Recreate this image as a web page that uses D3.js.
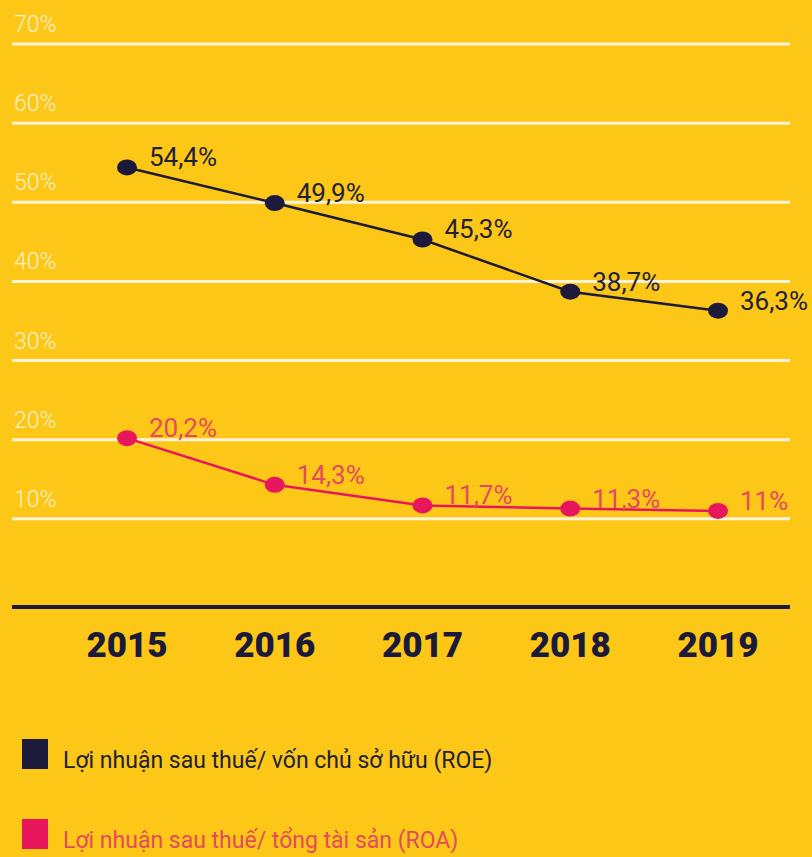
<!DOCTYPE html>
<html>
<head>
<meta charset="utf-8">
<script src="https://cdn.jsdelivr.net/npm/d3@7"></script>
<style>
  html, body { margin: 0; padding: 0; background: #fcc716; }
  svg { display: block; }
</style>
</head>
<body>
<svg id="chart" width="812" height="857"></svg>
<script>
var years = ["2015", "2016", "2017", "2018", "2019"];
var roe = [54.4, 49.9, 45.3, 38.7, 36.3];
var roa = [20.2, 14.3, 11.7, 11.3, 11];
var roeLabels = ["54,4%", "49,9%", "45,3%", "38,7%", "36,3%"];
var roaLabels = ["20,2%", "14,3%", "11,7%", "11,3%", "11%"];
var yTicks = [10, 20, 30, 40, 50, 60, 70];
var legendNames = ["Lợi nhuận sau thuế/ vốn chủ sở hữu (ROE)", "Lợi nhuận sau thuế/ tổng tài sản (ROA)"];

var navy = "#1b1a3b";
var pink = "#e8175d";

var svg = d3.select("#chart");

var xScale = d3.scalePoint()
    .domain(years)
    .range([127, 718]);

var yScale = d3.scaleLinear()
    .domain([0, 70])
    .range([598, 44]);

// gridlines
svg.append("g")
  .selectAll("line")
  .data(yTicks)
  .enter()
  .append("line")
  .attr("x1", 12)
  .attr("x2", 790)
  .attr("y1", function(d){ return yScale(d); })
  .attr("y2", function(d){ return yScale(d); })
  .attr("stroke", "#fdf3d8")
  .attr("stroke-width", 3);

svg.append("g")
  .selectAll("text")
  .data(yTicks)
  .enter()
  .append("text")
  .attr("x", 14)
  .attr("y", function(d){ return yScale(d) - 12; })
  .attr("font-family", "Roboto, sans-serif")
  .attr("font-weight", 300)
  .attr("font-size", 23)
  .attr("fill", "#fdf1cf")
  .text(function(d){ return d + "%"; });

// x axis
svg.append("line")
  .attr("x1", 12).attr("x2", 790)
  .attr("y1", 607).attr("y2", 607)
  .attr("stroke", navy)
  .attr("stroke-width", 4);

svg.append("g")
  .selectAll("text")
  .data(years)
  .enter()
  .append("text")
  .attr("x", function(d){ return xScale(d); })
  .attr("y", 657)
  .attr("text-anchor", "middle")
  .attr("font-family", "Roboto, sans-serif")
  .attr("font-weight", 900)
  .attr("font-size", 35)
  .attr("fill", navy)
  .text(function(d){ return d; });

function drawSeries(values, labels, color, textColor) {
  var line = d3.line()
      .x(function(d, i){ return xScale(years[i]); })
      .y(function(d){ return yScale(d); });

  svg.append("path")
    .datum(values)
    .attr("d", line)
    .attr("fill", "none")
    .attr("stroke", color)
    .attr("stroke-width", 2.5);

  svg.append("g")
    .selectAll("ellipse")
    .data(values)
    .enter()
    .append("ellipse")
    .attr("cx", function(d, i){ return xScale(years[i]); })
    .attr("cy", function(d){ return yScale(d); })
    .attr("rx", 10)
    .attr("ry", 8)
    .attr("fill", color);

  svg.append("g")
    .selectAll("text")
    .data(values)
    .enter()
    .append("text")
    .attr("x", function(d, i){ return xScale(years[i]) + 22; })
    .attr("y", function(d){ return yScale(d) - 1; })
    .attr("font-family", "Roboto, sans-serif")
    .attr("font-size", 26)
    .attr("fill", textColor)
    .text(function(d, i){ return labels[i]; });
}

drawSeries(roe, roeLabels, navy, "#22213a");
drawSeries(roa, roaLabels, pink, "#e54a5e");

// legend
var legend = svg.append("g")
  .selectAll("g")
  .data(legendNames)
  .enter()
  .append("g")
  .attr("transform", function(d, i){ return "translate(22," + (739 + i * 80) + ")"; });

legend.append("rect")
  .attr("width", 26)
  .attr("height", 30)
  .attr("fill", function(d, i){ return i === 0 ? navy : pink; });

legend.append("text")
  .attr("x", 41)
  .attr("y", 29)
  .attr("font-family", "Roboto, sans-serif")
  .attr("font-size", 23)
  .attr("fill", function(d, i){ return i === 0 ? "#22213a" : "#e54a5e"; })
  .text(function(d){ return d; });
</script>
</body>
</html>
